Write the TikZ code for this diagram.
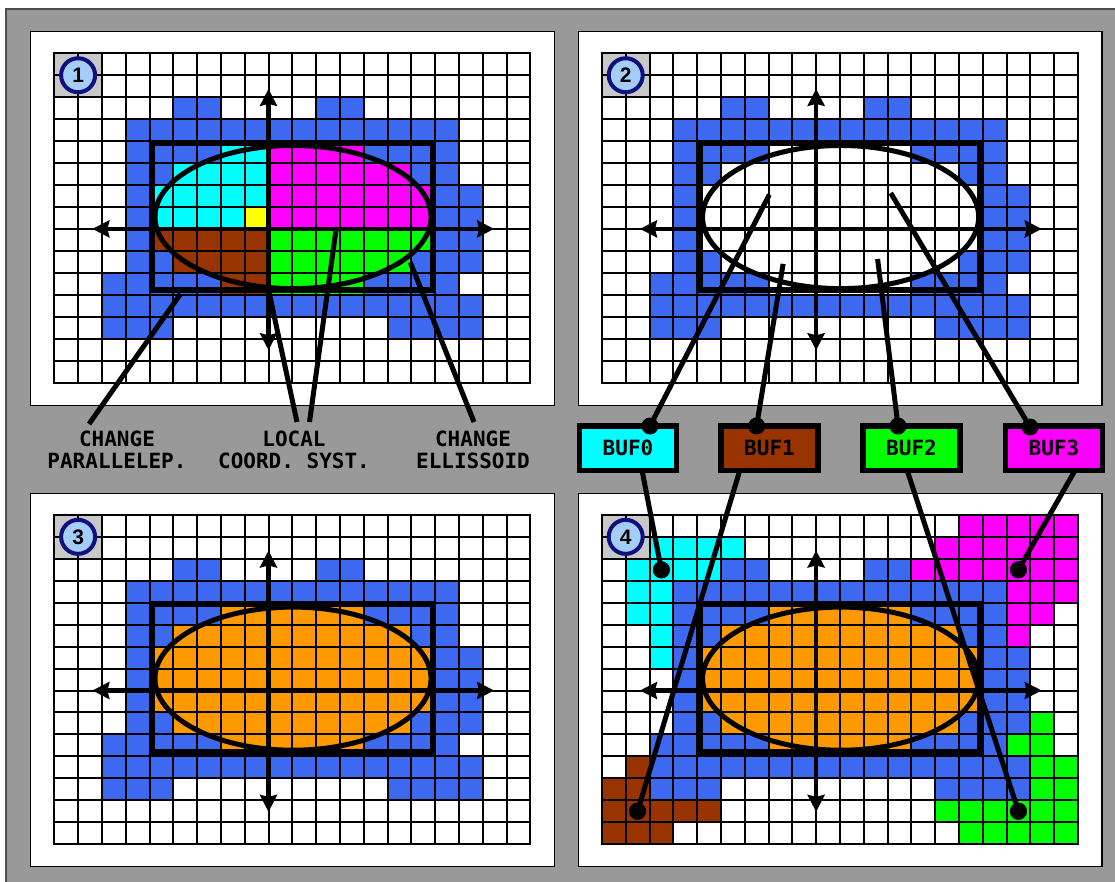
\documentclass[tikz,border=0pt]{standalone}
\usepackage{fontspec}
\newfontfamily\monof{DejaVu Sans Mono}
\newfontfamily\badgef{Liberation Sans}
\usetikzlibrary{arrows.meta}
\definecolor{bgray}{RGB}{153,153,153}
\definecolor{cblue}{RGB}{60,105,240}
\definecolor{ccyan}{RGB}{0,255,255}
\definecolor{cmag}{RGB}{255,0,255}
\definecolor{cgreen}{RGB}{0,255,0}
\definecolor{cbrown}{RGB}{153,51,0}
\definecolor{cyel}{RGB}{255,255,0}
\definecolor{corange}{RGB}{255,153,0}
\definecolor{badgebg}{RGB}{200,200,200}
\definecolor{badgefill}{RGB}{165,205,250}
\definecolor{navyc}{RGB}{15,15,125}
\tikzset{
 gl/.style={line width=2pt, black, line cap=rect},
 boxl/.style={line width=6pt, black},
 elll/.style={line width=5pt, black},
 axisl/.style={line width=4.5pt, black, {Stealth[length=17pt,width=17pt,inset=2pt]}-{Stealth[length=17pt,width=17pt,inset=2pt]}},
 conn/.style={line width=5pt, black},
 dotn/.style={circle, fill=black, inner sep=0pt, minimum size=17pt},
 buf/.style={draw=black, line width=5.5pt, minimum width=97pt, minimum height=44.5pt, inner sep=0pt, font=\monof\bfseries\fontsize{21}{22}\selectfont},
 lbl/.style={align=center, inner sep=0pt, font=\monof\bfseries\fontsize{21}{22}\selectfont},
 badge/.style={circle, draw=navyc, line width=4pt, fill=badgefill, minimum size=34pt, inner sep=0pt, font=\badgef\bfseries\fontsize{21}{21}\selectfont},
 panelbox/.style={fill=white, draw=black, line width=1.2pt},
}
\newcommand\fillrow[3]{\foreach \cc in {#3}{\fill[#1] (\cc,#2) rectangle ++(1,1);}}
\newcommand\baseblue{%
 \fillrow{cblue}{2}{5,6,11,12}%
 \fillrow{cblue}{3}{3,...,16}%
 \fillrow{cblue}{4}{3,4,5,6,13,14,15,16}%
 \fillrow{cblue}{5}{3,4,15,16}%
 \fillrow{cblue}{6}{3,16,17}%
 \fillrow{cblue}{7}{3,16,17}%
 \fillrow{cblue}{8}{3,16,17}%
 \fillrow{cblue}{9}{3,4,15,16,17}%
 \fillrow{cblue}{10}{2,3,4,5,6,13,14,15,16}%
 \fillrow{cblue}{11}{2,...,17}%
 \fillrow{cblue}{12}{2,3,4,14,15,16,17}%
}
\newcommand\orangecells{%
 \fillrow{corange}{4}{7,...,12}%
 \fillrow{corange}{5}{5,...,14}%
 \fillrow{corange}{6}{4,...,15}%
 \fillrow{corange}{7}{4,...,15}%
 \fillrow{corange}{8}{4,...,15}%
 \fillrow{corange}{9}{5,...,14}%
 \fillrow{corange}{10}{7,...,12}%
}
\newcommand\ponecells{%
 \fillrow{ccyan}{4}{7,8}\fillrow{cmag}{4}{9,...,12}%
 \fillrow{ccyan}{5}{5,...,8}\fillrow{cmag}{5}{9,...,14}%
 \fillrow{ccyan}{6}{4,...,8}\fillrow{cmag}{6}{9,...,15}%
 \fillrow{ccyan}{7}{4,...,7}\fillrow{cyel}{7}{8}\fillrow{cmag}{7}{9,...,15}%
 \fillrow{cbrown}{8}{4,...,8}\fillrow{cgreen}{8}{9,...,15}%
 \fillrow{cbrown}{9}{5,...,8}\fillrow{cgreen}{9}{9,...,14}%
 \fillrow{cbrown}{10}{7,8}\fillrow{cgreen}{10}{9,...,12}%
}
\newcommand\bufcells{%
 \fillrow{ccyan}{1}{1,...,5}\fillrow{ccyan}{2}{1,...,4}\fillrow{ccyan}{3}{1,2}%
 \fillrow{ccyan}{4}{1,2}\fillrow{ccyan}{5}{2}\fillrow{ccyan}{6}{2}%
 \fillrow{cmag}{0}{15,...,19}\fillrow{cmag}{1}{14,...,19}\fillrow{cmag}{2}{13,...,19}%
 \fillrow{cmag}{3}{17,18,19}\fillrow{cmag}{4}{17,18}\fillrow{cmag}{5}{17}%
 \fillrow{cgreen}{9}{18}\fillrow{cgreen}{10}{17,18}\fillrow{cgreen}{11}{18,19}%
 \fillrow{cgreen}{12}{18,19}\fillrow{cgreen}{13}{14,...,19}\fillrow{cgreen}{14}{15,...,19}%
 \fillrow{cbrown}{11}{1}\fillrow{cbrown}{12}{0,1}\fillrow{cbrown}{13}{0,...,4}\fillrow{cbrown}{14}{0,1,2}%
}
\newcommand\gpanel[6]{%
 \path[panelbox] (#1,#2) rectangle ++(523.6,373.5);
 \begin{scope}[shift={(#3,#4)},x=23.8pt,y=-21.95pt]
  \baseblue
  #5
  \fill[badgebg] (0,0) rectangle (2,2);
  \foreach \ii in {0,...,20} {\draw[gl] (\ii,0) -- (\ii,15);}
  \foreach \jj in {0,...,15} {\draw[gl] (0,\jj) -- (20,\jj);}
  \node[badge] (n#6) at (1,1) {#6};
  \draw[boxl] (4.12,4.08) rectangle (15.9,10.8);
  \draw[elll] (10.03,7.46) ellipse [x radius=5.8, y radius=3.26];
  \draw[axisl] (1.6,8) -- (18.48,8);
  \draw[axisl] (9,1.62) -- (9,13.53);
 \end{scope}
}
\begin{document}
\begin{tikzpicture}[x=1pt,y=-1pt]
\useasboundingbox (0,0) rectangle (1115,882);
\clip (0,0) rectangle (1115,882);
\fill[white] (0,0) rectangle (1115,882);
\path[fill=bgray, draw=black!70, line width=1.5pt] (6,9) rectangle (1130,900);
\gpanel{30.7}{31.7}{54.3}{53.3}{\ponecells}{1}
\gpanel{578.3}{31.7}{601.9}{53.3}{}{2}
\gpanel{30.7}{493.3}{54.3}{514.9}{\orangecells}{3}
\gpanel{578.3}{493.3}{601.9}{514.9}{\orangecells\bufcells}{4}
% panel 1 pointers
\coordinate (a1) at (180.5,294);
\coordinate (a2) at (269,292);
\coordinate (a3) at (335.9,230.7);
\coordinate (a4) at (410.3,262.3);
\coordinate (e1) at (89,424);
\coordinate (e2) at (297,422);
\coordinate (e3) at (309.5,422);
\coordinate (e4) at (474,422);
\draw[conn] (a1) -- (e1);
\draw[conn] (a2) -- (e2);
\draw[conn] (a3) -- (e3);
\draw[conn] (a4) -- (e4);
\node[lbl] (lab1) at (117,449.4) {CHANGE\\PARALLELEP.};
\node[lbl] (lab2) at (294,449.4) {LOCAL\\COORD. SYST.};
\node[lbl] (lab3) at (473,449.4) {CHANGE\\ELLISSOID};
% panel 2 to buffers
\coordinate (q0) at (769.3,194.7);
\coordinate (q1) at (783.1,263.9);
\coordinate (q2) at (877.6,259);
\coordinate (q3) at (890.7,193);
\coordinate (t0) at (650,426);
\coordinate (t1) at (756.6,426);
\coordinate (t2) at (898,426);
\coordinate (t3) at (1030,427);
\draw[conn] (q0) -- (t0);
\draw[conn] (q1) -- (t1);
\draw[conn] (q2) -- (t2);
\draw[conn] (q3) -- (t3);
% buffers to panel 4
\coordinate (o0) at (641,465);
\coordinate (o1) at (741.4,465);
\coordinate (o2) at (905.4,465);
\coordinate (o3) at (1078.1,465);
\node[dotn] (d0) at (661.4,569.8) {};
\node[dotn] (d1) at (637.6,811.2) {};
\node[dotn] (d2) at (1018.4,811.2) {};
\node[dotn] (d3) at (1018.4,569.8) {};
\draw[conn] (o0) -- (d0.center);
\draw[conn] (o1) -- (d1.center);
\draw[conn] (o2) -- (d2.center);
\draw[conn] (o3) -- (d3.center);
\node[dotn] at (d0) {};
\node[dotn] at (d1) {};
\node[dotn] at (d2) {};
\node[dotn] at (d3) {};
\node[buf, fill=ccyan] (buf0) at (628,448.3) {BUF0};
\node[buf, fill=cbrown] (buf1) at (769.5,448.3) {BUF1};
\node[buf, fill=cgreen] (buf2) at (911.5,448.3) {BUF2};
\node[buf, fill=cmag] (buf3) at (1054,448.3) {BUF3};
\node[dotn] at (t0) {};
\node[dotn] at (t1) {};
\node[dotn] at (t2) {};
\node[dotn] at (t3) {};
\end{tikzpicture}
\end{document}
